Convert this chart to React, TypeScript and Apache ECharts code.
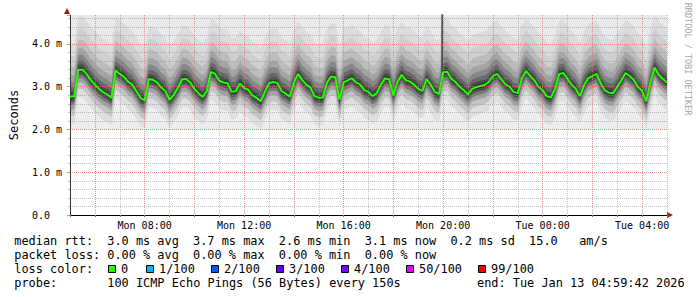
import React, { useEffect, useRef } from 'react';
import * as echarts from 'echarts';

// ---- data ----
const START_HOUR = 5; // Mon 05:00, hours counted from Mon 00:00
const END_HOUR = 29; // Tue 05:00
const SAMPLES_PER_HOUR = 6; // one median reading every 10 minutes

const medianRtt = [
  2.77, 2.77, 3.40, 3.40, 3.30, 3.16, 3.05, 2.95, 2.87, 2.82,
  2.74, 3.38, 3.30, 3.23, 3.12, 3.05, 2.90, 2.74, 2.68, 3.18,
  3.16, 3.10, 2.98, 2.90, 2.69, 2.81, 2.97, 3.17, 3.18, 3.10,
  2.95, 2.85, 2.76, 2.90, 3.35, 3.30, 3.14, 3.10, 3.08, 2.88,
  2.90, 3.08, 2.97, 2.93, 2.80, 2.74, 2.66, 2.88, 3.08, 3.11,
  3.09, 2.90, 2.84, 2.77, 3.09, 3.30, 3.16, 3.05, 2.98, 2.78,
  2.74, 2.75, 3.10, 3.24, 3.22, 2.70, 3.10, 3.15, 3.20, 3.10,
  3.05, 2.92, 2.88, 2.78, 2.85, 3.05, 3.20, 3.17, 2.80, 3.11,
  3.28, 3.15, 3.12, 3.05, 2.95, 2.90, 3.18, 3.05, 2.88, 2.83,
  3.34, 3.35, 3.18, 3.11, 3.00, 2.92, 2.82, 2.95, 2.99, 3.02,
  3.04, 3.11, 3.25, 3.30, 3.18, 3.06, 3.00, 2.88, 2.85, 3.20,
  3.37, 3.25, 3.15, 3.00, 2.92, 2.78, 2.75, 2.95, 3.30, 3.32,
  3.18, 3.05, 2.95, 2.78, 3.04, 3.20, 3.25, 3.30, 3.08, 2.92,
  2.86, 2.85, 3.00, 3.15, 3.32, 3.25, 3.16, 3.00, 2.90, 2.66,
  3.10, 3.45, 3.28, 3.18, 3.10,
];

// smoke (ping spread), in ms
const smokeFloor = 2.0;
const smokeCeiling = 4.75;
const smokeBelow = [0.65, 0.45, 0.3, 0.2, 0.12, 0.05];
const smokeAbove = [0.05, 0.12, 0.22, 0.35, 0.5, 0.7, 0.95, 1.25];

const spikeHour = [19.96];
const spikeRtt = [3.35, 4.75];

const xTickHours = [8, 12, 16, 20, 24, 28];
const xTickLabels = ['Mon 08:00', 'Mon 12:00', 'Mon 16:00', 'Mon 20:00', 'Tue 00:00', 'Tue 04:00'];
const yTickValues = [0, 1, 2, 3, 4];
const yTickLabels = ['0.0', '1.0 m', '2.0 m', '3.0 m', '4.0 m'];

const rttStats = ['3.0', '3.7', '2.6', '3.1'];
const statNames = ['avg', 'max', 'min', 'now'];
const rttSd = '0.2';
const amsValue = '15.0';
const lossStats = ['0.00', '0.00', '0.00', '0.00'];
const lossLabels = ['0', '1/100', '2/100', '3/100', '4/100', '50/100', '99/100'];
const lossColors = ['#26ff00', '#00b8ff', '#0059ff', '#5e00ff', '#7e00ff', '#dd00ff', '#ff0000'];
const probeText = '100 ICMP Echo Pings (56 Bytes) every 150s';
const endText = 'end: Tue Jan 13 04:59:42 2026';

// ---- styles / layout ----
const MONO = '"DejaVu Sans Mono", monospace';
// colours of the bands between consecutive smoke edges (bottom to top)
const bandColors = [
  '#ededed', '#dedede', '#c4c4c4', '#a2a2a2', '#7a7a7a', '#525252',
  '#2c2c2c',
  '#4a4a4a', '#686868', '#878787', '#a4a4a4', '#bcbcbc', '#cfcfcf', '#dcdcdc', '#e9e9e9',
];
const GRID_MINOR = 'rgba(140,140,140,0.55)';
const GRID_MAJOR = 'rgba(225,110,110,0.75)';
const COL0 = 14.3;
const CW = 7.15;
const lossBoxX = [108, 146, 211, 276, 341, 406, 478];

export default function App() {
  const ref = useRef<HTMLDivElement>(null);
  useEffect(() => {
    if (!ref.current) return;
    const chart = echarts.init(ref.current, null, { renderer: 'svg' });
    const hours = medianRtt.map((_, i) => START_HOUR + i / SAMPLES_PER_HOUR);

    const edges = medianRtt.map((m) => [
      smokeFloor,
      ...smokeBelow.map((o) => m - o),
      ...smokeAbove.map((o) => m + o),
      smokeCeiling,
    ]);
    const nEdges = edges[0].length;

    const series: any[] = [];
    // paint each smoke edge as an area down to the axis, highest first, so that
    // every band shows between its own edge and the next lower one
    for (let j = nEdges - 1; j >= 0; j--) {
      series.push({
        type: 'line', symbol: 'none', silent: true,
        data: hours.map((h, i) => [h, edges[i][j]]),
        lineStyle: { width: 0, opacity: 0 },
        areaStyle: { color: j === 0 ? '#ffffff' : bandColors[j - 1], opacity: 1 },
        z: 1,
      });
    }
    series.push({
      type: 'line', symbol: 'none', silent: true,
      data: [[spikeHour[0], spikeRtt[0]], [spikeHour[0], spikeRtt[1]]],
      lineStyle: { color: '#3c3c3c', width: 1.5 }, z: 2,
    });
    series.push({
      type: 'line', symbol: 'none', silent: true,
      data: hours.map((h, i) => [h, medianRtt[i]]),
      lineStyle: { color: lossColors[0], width: 2 }, z: 5,
    });

    const graphic: any[] = [];
    graphic.push({ type: 'polygon', shape: { points: [[64, 14], [70, 14], [67, 8]] }, style: { fill: '#a01818' } });
    graphic.push({ type: 'polygon', shape: { points: [[667, 212], [667, 218], [673, 215]] }, style: { fill: '#a01818' } });
    graphic.push({
      type: 'text', x: 688, y: 59, rotation: -Math.PI / 2,
      style: { text: 'RRDTOOL / TOBI OETIKER', font: `8.5px ${MONO}`, fill: '#a8a8a8', align: 'center', verticalAlign: 'middle' },
    });
    const txt = (col: number, y: number, text: string) => ({
      type: 'text', x: COL0 + col * CW, y,
      style: { text, font: `11.9px ${MONO}`, fill: '#000', align: 'left', verticalAlign: 'middle' },
    });
    const row1 = 241, row2 = 255, row3 = 269, row4 = 283;
    graphic.push(txt(0, row1, 'median rtt:'));
    rttStats.forEach((s, i) => graphic.push(txt(13 + 12 * i, row1, `${s} ms ${statNames[i]}`)));
    graphic.push(txt(61, row1, `${rttSd} ms sd`));
    graphic.push(txt(72, row1, amsValue));
    graphic.push(txt(79, row1, 'am/s'));
    graphic.push(txt(0, row2, 'packet loss:'));
    lossStats.forEach((s, i) => graphic.push(txt(13 + 12 * i, row2, `${s} % ${statNames[i]}`)));
    graphic.push(txt(0, row3, 'loss color:'));
    lossLabels.forEach((l, i) => {
      graphic.push({ type: 'rect', shape: { x: lossBoxX[i] + 0.5, y: row3 - 3.5, width: 7, height: 7 }, style: { fill: lossColors[i], stroke: '#000', lineWidth: 1 } });
      graphic.push({ type: 'text', x: lossBoxX[i] + 13, y: row3, style: { text: l, font: `11.9px ${MONO}`, fill: '#000', align: 'left', verticalAlign: 'middle' } });
    });
    graphic.push(txt(0, row4, 'probe:'));
    graphic.push(txt(13, row4, probeText));
    graphic.push({ type: 'text', x: 477, y: row4, style: { text: endText, font: `11.9px ${MONO}`, fill: '#000', align: 'left', verticalAlign: 'middle' } });

    chart.setOption({
      animation: false,
      backgroundColor: '#fff',
      grid: { left: 67, top: 15, width: 600, height: 200, containLabel: false },
      xAxis: {
        type: 'value', min: START_HOUR, max: END_HOUR, interval: 1, z: 3,
        axisLine: { show: true, onZero: false, lineStyle: { color: '#000', width: 1 } },
        axisTick: { show: true, length: 2, lineStyle: { color: '#777' } },
        axisLabel: {
          fontFamily: MONO, fontSize: 10, color: '#000', margin: 5,
          formatter: (v: number) => { const i = xTickHours.indexOf(Math.round(v)); return i >= 0 && Math.abs(v - Math.round(v)) < 1e-6 ? xTickLabels[i] : ''; },
        },
        splitLine: { show: true, lineStyle: { color: [GRID_MINOR, GRID_MAJOR], type: [1, 1], width: 1 } },
      },
      yAxis: {
        type: 'value', min: 0, max: 4.678, interval: 1, z: 3,
        name: 'Seconds', nameLocation: 'middle', nameGap: 50,
        nameTextStyle: { fontFamily: MONO, fontSize: 12, color: '#000' },
        axisLine: { show: true, lineStyle: { color: '#333', width: 1 } },
        axisTick: { show: true, length: 3, lineStyle: { color: GRID_MAJOR } },
        minorTick: { show: true, splitNumber: 5, length: 2, lineStyle: { color: GRID_MINOR } },
        axisLabel: {
          fontFamily: MONO, fontSize: 10, color: '#000', align: 'left', margin: 38,
          formatter: (v: number) => { const i = yTickValues.findIndex((t) => Math.abs(t - v) < 1e-6); return i >= 0 ? yTickLabels[i] : ''; },
        },
        splitLine: { show: true, showMaxLine: false, lineStyle: { color: GRID_MAJOR, type: [1, 1], width: 1 } },
        minorSplitLine: { show: true, lineStyle: { color: GRID_MINOR, type: [1, 1], width: 1 } },
      },
      series,
      graphic,
    });
    return () => chart.dispose();
  }, []);
  return <div ref={ref} style={{ position: 'absolute', left: 0, top: 0, width: 697, height: 297 }} />;
}
